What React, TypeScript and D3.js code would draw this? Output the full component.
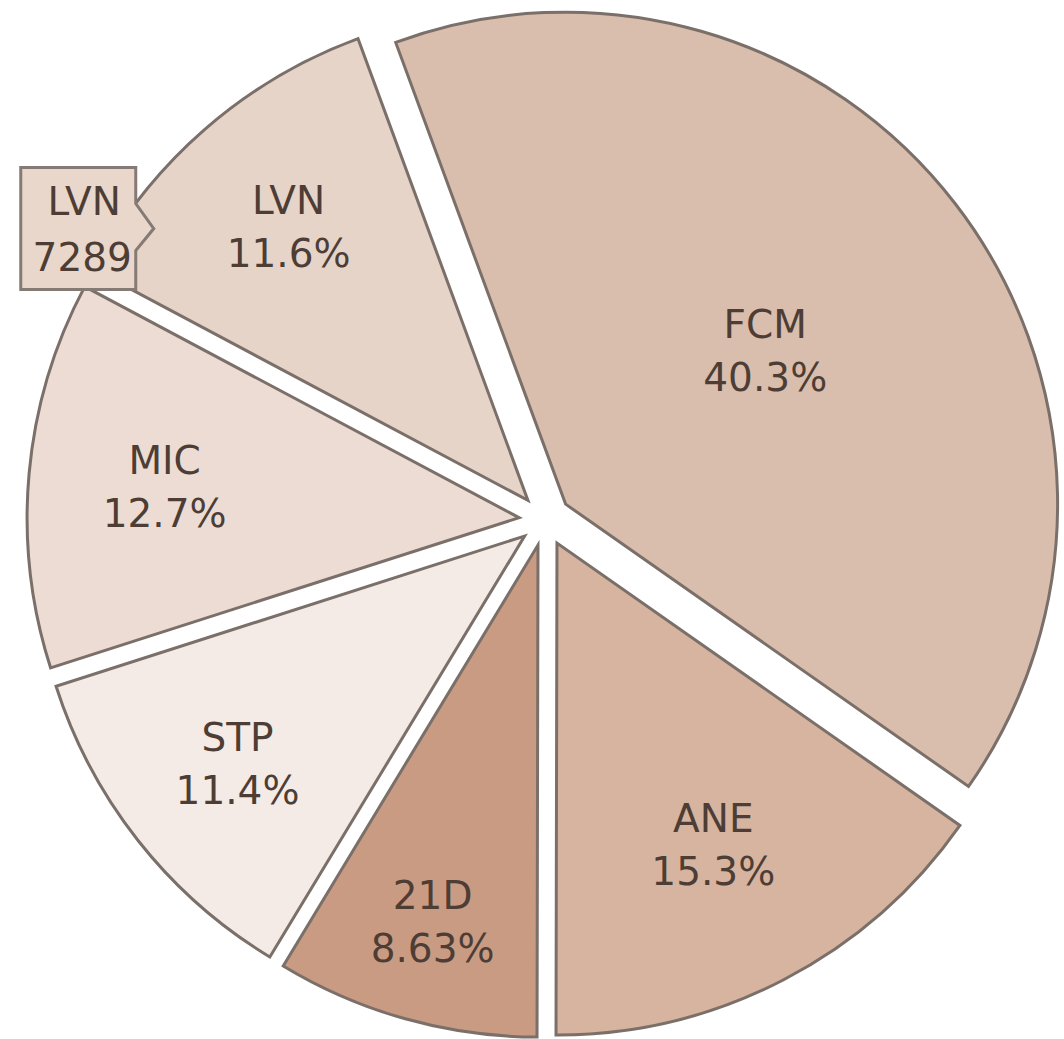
import React, { useEffect, useRef } from "react";
import * as d3 from "d3";

const categories = ["FCM", "ANE", "21D", "STP", "MIC", "LVN"];
const values = [25330, 9610, 5420, 7160, 7985, 7289];
const colors = ["#d9bead", "#d7b49f", "#c99b83", "#f4ebe6", "#ecdcd3", "#e7d4c9"];
const tooltipCategory = "LVN";

export default function App() {
  const ref = useRef<SVGSVGElement>(null);

  useEffect(() => {
    const svg = d3.select(ref.current);
    svg.selectAll("*").remove();

    const width = 1064;
    const height = 1039;
    const cx = 545;
    const cy = 520;
    const radius = 492;
    const explode = 26;
    const textColor = "#4d3d35";
    const strokeColor = "#7b6f69";
    const font = "'DejaVu Sans', Verdana, sans-serif";

    svg.attr("width", width).attr("height", height);

    const data = categories.map((c, i) => ({ name: c, value: values[i], color: colors[i] }));
    const total = d3.sum(values);
    const fmt = d3.format(".3r");

    const pie = d3.pie<any>()
      .sort(null)
      .value(d => d.value)
      .startAngle((-20.2 * Math.PI) / 180)
      .endAngle((-20.2 * Math.PI) / 180 + 2 * Math.PI);

    const arc = d3.arc<any>().innerRadius(0).outerRadius(radius);
    const arcs = pie(data);

    const g = svg.append("g").attr("transform", `translate(${cx},${cy})`);

    const slice = g.selectAll("g.slice")
      .data(arcs)
      .enter()
      .append("g")
      .attr("class", "slice")
      .attr("transform", d => {
        const a = (d.startAngle + d.endAngle) / 2;
        return `translate(${explode * Math.sin(a)},${-explode * Math.cos(a)})`;
      });

    slice.append("path")
      .attr("d", arc)
      .attr("fill", d => d.data.color)
      .attr("stroke", strokeColor)
      .attr("stroke-width", 3)
      .attr("stroke-linejoin", "miter");

    // labels: narrow slices push their label further out
    slice.each(function (d) {
      const a = (d.startAngle + d.endAngle) / 2;
      const share = d.data.value / total;
      const rho = radius * (0.346 - 0.183 * Math.log(share));
      const lx = rho * Math.sin(a);
      const ly = -rho * Math.cos(a);
      const t = d3.select(this).append("text")
        .attr("text-anchor", "middle")
        .attr("font-family", font)
        .attr("font-size", 39)
        .attr("fill", textColor);
      t.append("tspan").attr("x", lx).attr("y", ly - 12).text(d.data.name);
      t.append("tspan").attr("x", lx).attr("y", ly + 41).text(fmt((d.data.value / total) * 100) + "%");
    });

    // tooltip on LVN
    const tip = arcs.find(d => d.data.name === tooltipCategory)!;
    const ta = (306 * Math.PI) / 180;
    const mid = (tip.startAngle + tip.endAngle) / 2;
    const ox = cx + explode * Math.sin(mid);
    const oy = cy - explode * Math.cos(mid);
    const tx = ox + radius * 0.94 * Math.sin(ta);
    const ty = oy - radius * 0.94 * Math.cos(ta);
    const bw = 115;
    const bh = 122;
    const right = tx - 18;
    const left = right - bw;
    const top = ty - bh / 2;
    const bottom = ty + bh / 2;
    const path = d3.path();
    path.moveTo(left, top);
    path.lineTo(right, top);
    path.lineTo(right, ty - 25);
    path.lineTo(tx, ty);
    path.lineTo(right, ty + 22);
    path.lineTo(right, bottom);
    path.lineTo(left, bottom);
    path.closePath();
    svg.append("path")
      .attr("d", path.toString())
      .attr("fill", "#e9d7cc")
      .attr("stroke", "#857a74")
      .attr("stroke-width", 3);
    const tt = svg.append("text")
      .attr("text-anchor", "middle")
      .attr("font-family", font)
      .attr("font-size", 39)
      .attr("fill", textColor);
    tt.append("tspan").attr("x", (left + right) / 2 + 6).attr("y", top + 47).text(tip.data.name);
    tt.append("tspan").attr("x", (left + right) / 2 + 4).attr("y", top + 103).text(String(tip.data.value));
  }, []);

  return <svg ref={ref} style={{ position: "absolute", left: 0, top: 0 }}></svg>;
}
